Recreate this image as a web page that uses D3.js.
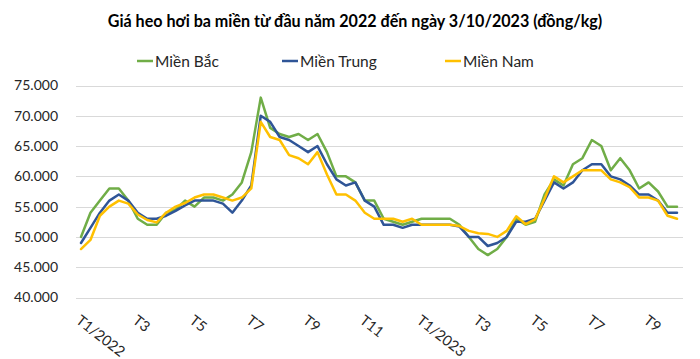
<!DOCTYPE html>
<html><head><meta charset="utf-8">
<script src="https://cdn.jsdelivr.net/npm/d3@7"></script>
<style>body{margin:0;background:#fff} svg{display:block}</style>
</head><body>
<svg id="c" width="700" height="359"></svg>
<script>
const title = "Giá heo hơi ba miền từ đầu năm 2022 đến ngày 3/10/2023 (đồng/kg)";
const seriesNames = ["Miền Bắc", "Miền Trung", "Miền Nam"];
const seriesColors = ["#70AD47", "#2F5597", "#FFC000"];
const categories = [
 "01/22-1","01/22-2","01/22-3","02/22-1","02/22-2","02/22-3","03/22-1","03/22-2","03/22-3",
 "04/22-1","04/22-2","04/22-3","05/22-1","05/22-2","05/22-3","06/22-1","06/22-2","06/22-3",
 "07/22-1","07/22-2","07/22-3","08/22-1","08/22-2","08/22-3","09/22-1","09/22-2","09/22-3",
 "10/22-1","10/22-2","10/22-3","11/22-1","11/22-2","11/22-3","12/22-1","12/22-2","12/22-3",
 "01/23-1","01/23-2","01/23-3","02/23-1","02/23-2","02/23-3","03/23-1","03/23-2","03/23-3",
 "04/23-1","04/23-2","04/23-3","05/23-1","05/23-2","05/23-3","06/23-1","06/23-2","06/23-3",
 "07/23-1","07/23-2","07/23-3","08/23-1","08/23-2","08/23-3","09/23-1","09/23-2","09/23-3",
 "03/10/23"
];
const tickLabels = ["T1/2022","T3","T5","T7","T9","T11","T1/2023","T3","T5","T7","T9"];
const tickCategories = ["01/22-1","03/22-1","05/22-1","07/22-1","09/22-1","11/22-1","01/23-1","03/23-1","05/23-1","07/23-1","09/23-1"];
const yTicks = [40000,45000,50000,55000,60000,65000,70000,75000];
const mienBac = [50000,54000,56000,58000,58000,56000,53000,52000,52000,54000,
 54500,56000,55000,56500,56500,56000,57000,59000,64000,73000,
 68000,67000,66500,67000,66000,67000,64000,60000,60000,59000,
 56000,56000,53000,52500,52000,52500,53000,53000,53000,53000,
 52000,50000,48000,47000,48000,50000,53000,52000,52500,57000,
 59500,58500,62000,63000,66000,65000,61000,63000,61000,58000,
 59000,57500,55000,55000];
const mienTrung = [49000,51500,54000,56000,57000,56000,54000,53000,53000,53500,
 54300,55200,56000,56000,56000,55500,54000,56000,58500,70000,
 69000,66500,66000,65000,64000,65000,62000,59500,58500,59000,
 56000,55000,52000,52000,51500,52000,52000,52000,52000,52000,
 51700,50000,50000,48500,49000,50000,52500,52500,53000,56000,
 59000,58000,59000,61000,62000,62000,60000,59500,58500,57000,
 57000,56000,54000,54000];
const mienNam = [48000,49500,53500,55000,56000,55500,53700,52800,52400,54000,
 55000,55600,56500,57000,57000,56500,56000,56500,58000,69000,
 66500,66000,63500,63000,62000,64000,60300,57000,57000,56000,
 54000,53000,53000,53000,52500,53000,52000,52000,52000,52000,
 51800,51000,50600,50500,50000,51000,53400,52100,52900,56300,
 60000,59000,60000,61000,61000,61000,59500,59000,58200,56500,
 56500,56000,53500,53000];
const seriesValues = [mienBac, mienTrung, mienNam];

const FONT = "Lato, 'Open Sans', sans-serif";
const svg = d3.select("#c");
const x = d3.scalePoint().domain(categories).range([81, 677]);
const y = d3.scaleLinear().domain([40000, 75000]).range([297.5, 85.5]);
const loc = d3.formatLocale({decimal: ",", thousands: ".", grouping: [3], currency: ["", ""]});
const fmt = loc.format(",d");

// gridlines
svg.append("g").selectAll("line").data(yTicks).join("line")
  .attr("x1", 76).attr("x2", 683)
  .attr("y1", d => Math.round(y(d)) + 0.5).attr("y2", d => Math.round(y(d)) + 0.5)
  .attr("stroke", "#d9d9d9").attr("stroke-width", 1);

// y axis
const yAxis = svg.append("g").attr("transform", "translate(58,0)")
  .call(d3.axisLeft(y).tickValues(yTicks).tickFormat(fmt).tickSize(0).tickPadding(0));
yAxis.select(".domain").remove();
yAxis.selectAll("text").attr("font-family", FONT).attr("font-size", 14).attr("fill", "#262626");

// x axis
const xAxis = svg.append("g").attr("transform", "translate(0,314)")
  .call(d3.axisBottom(x).tickValues(tickCategories)
    .tickFormat((d, i) => tickLabels[i]).tickSize(0).tickPadding(0));
xAxis.select(".domain").remove();
xAxis.selectAll("text")
  .attr("font-family", FONT).attr("font-size", 14.5).attr("fill", "#262626")
  .attr("text-anchor", "start").attr("y", 0).attr("dy", "0.72em")
  .attr("transform", "rotate(38)");

// lines
const line = d3.line().x((d, i) => x(categories[i])).y(d => y(d));
seriesValues.forEach((vals, k) => {
  svg.append("path").datum(vals)
    .attr("d", line).attr("fill", "none")
    .attr("stroke", seriesColors[k]).attr("stroke-width", 2.5)
    .attr("stroke-linejoin", "round").attr("stroke-linecap", "round");
});

// title
const t = svg.append("text").attr("x", 355).attr("y", 27).attr("text-anchor", "middle")
  .attr("font-family", FONT).attr("font-weight", "bold").attr("font-size", 15)
  .attr("fill", "#000").text(title);
const tw = t.node().getComputedTextLength();
t.attr("font-size", 15 * 495 / tw);

// legend
const legX = [137, 282, 445];
seriesNames.forEach((n, k) => {
  svg.append("line").attr("x1", legX[k]).attr("x2", legX[k] + 16)
    .attr("y1", 61).attr("y2", 61).attr("stroke", seriesColors[k]).attr("stroke-width", 2.5);
  svg.append("text").attr("x", legX[k] + 18).attr("y", 66.5)
    .attr("font-family", FONT).attr("font-size", 15.5).attr("fill", "#262626").text(n);
});
</script>
</body></html>
